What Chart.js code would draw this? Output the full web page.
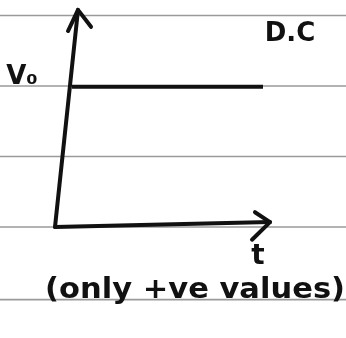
<!DOCTYPE html>
<html>
<head>
<meta charset="utf-8">
<script src="https://cdn.jsdelivr.net/npm/chart.js@4/dist/chart.umd.min.js"></script>
<style>
  html, body { margin: 0; padding: 0; background: #fff; }
  #wrap { width: 346px; height: 338px; }
</style>
</head>
<body>
<div id="wrap"><canvas id="sketch"></canvas></div>
<script>
// ruled paper lines (y in V units)
const paperRows = [3.0, 2.0, 1.0, 0.0, -1.03];
const xMin = -2.75, xMax = 14.55;
const yMin = -1.574, yMax = 3.22;

// the DC level V0 over time
const dcTime = [0.85, 10.4];
const dcValue = [1.99, 1.99];

// hand drawn axes (with arrow heads)
const yAxisLine = [{x: 0, y: 0}, {x: 1.15, y: 3.08}];
const yArrow = [{x: 0.65, y: 2.78}, {x: 1.15, y: 3.08}, {x: 1.8, y: 2.84}];
const xAxisLine = [{x: 0, y: 0}, {x: 10.75, y: 0.07}];
const xArrow = [{x: 10.0, y: 0.21}, {x: 10.75, y: 0.07}, {x: 9.85, y: -0.18}];

// labels: text, x, y, font size
const labels = [
  {text: "V₀", x: -1.65, y: 2.12, size: 26},
  {text: "D.C", x: 11.75, y: 2.73, size: 26},
  {text: "t", x: 10.15, y: -0.42, size: 28},
  {text: "(only +ve values)", x: 7.0, y: -0.9, size: 28, width: 300}
];

const ink = "#111";

const datasets = paperRows.map(r => ({
  data: [{x: xMin, y: r}, {x: xMax, y: r}],
  borderColor: "#9a9a9a",
  borderWidth: 1.6,
  pointRadius: 0,
  order: 10
}));

datasets.push({
  data: dcTime.map((t, i) => ({x: t, y: dcValue[i]})),
  borderColor: ink, borderWidth: 4, pointRadius: 0, order: 1
});
[yAxisLine, yArrow, xAxisLine, xArrow].forEach(d => {
  datasets.push({ data: d, borderColor: ink, borderWidth: 4, pointRadius: 0, order: 1,
    borderCapStyle: "round", borderJoinStyle: "round" });
});

const textPlugin = {
  id: "handText",
  afterDatasetsDraw(chart) {
    const {ctx, scales} = chart;
    ctx.save();
    ctx.fillStyle = ink;
    ctx.textAlign = "center";
    ctx.textBaseline = "middle";
    labels.forEach(l => {
      const px = scales.x.getPixelForValue(l.x);
      const py = scales.y.getPixelForValue(l.y);
      ctx.font = "bold " + l.size + "px 'DejaVu Sans'";
      ctx.save();
      ctx.translate(px, py);
      if (l.width) {
        const w = ctx.measureText(l.text).width;
        ctx.scale(l.width / w, 1);
      }
      ctx.fillText(l.text, 0, 0);
      ctx.restore();
    });
    ctx.restore();
  }
};

new Chart(document.getElementById("sketch"), {
  type: "line",
  data: { datasets: datasets },
  options: {
    responsive: true,
    maintainAspectRatio: false,
    animation: false,
    layout: { padding: 0 },
    plugins: { legend: { display: false }, tooltip: { enabled: false } },
    scales: {
      x: { type: "linear", min: xMin, max: xMax, display: false },
      y: { type: "linear", min: yMin, max: yMax, display: false }
    }
  },
  plugins: [textPlugin]
});
</script>
</body>
</html>
